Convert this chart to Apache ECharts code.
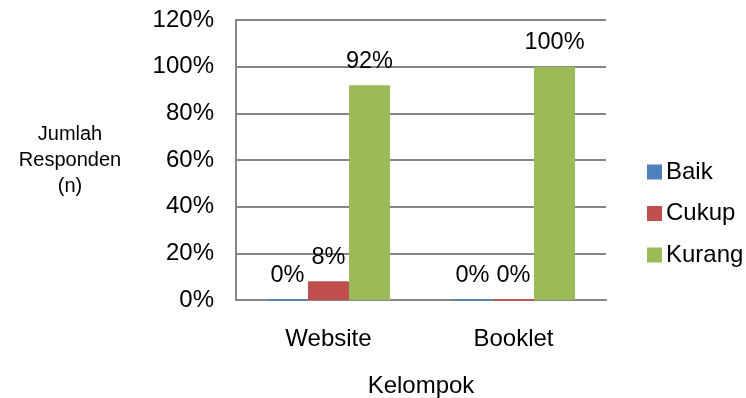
<!DOCTYPE html>
<html><head><meta charset="utf-8">
<script src="https://cdn.jsdelivr.net/npm/echarts@6/dist/echarts.min.js"></script>
<style>html,body{margin:0;padding:0;background:#fff}#c{width:746px;height:398px}</style>
</head><body><div id="c"></div>
<script>
const categories = ['Website', 'Booklet'];
const baik = [0, 0];
const cukup = [0.08, 0];
const kurang = [0.92, 1.0];
const yTicks = [0, 0.2, 0.4, 0.6, 0.8, 1.0, 1.2];

const font = 'Arial, "Liberation Sans", sans-serif';
const pct = v => Math.round(v * 100) + '%';
function series(name, data, color) {
  return {
    name, type: 'bar', data, barWidth: 41, barGap: '0%',
    itemStyle: { color, borderColor: color, borderWidth: 1 },
    label: { show: true, position: 'top', distance: 12, formatter: p => pct(p.value),
      fontFamily: font, fontSize: 23.5, color: '#000' }
  };
}
const chart = echarts.init(document.getElementById('c'), null, { renderer: 'canvas' });
chart.setOption({
  animation: false,
  grid: { left: 236, right: 140, top: 20, bottom: 98, containLabel: false, outerBoundsMode: 'none' },
  legend: {
    orient: 'vertical', left: 642, top: 155, itemWidth: 13, itemHeight: 13, itemGap: 17.5,
    icon: 'rect', textStyle: { fontFamily: font, fontSize: 24, color: '#000' },
    data: ['Baik', 'Cukup', 'Kurang']
  },
  xAxis: {
    type: 'category', data: categories,
    axisTick: { show: false },
    axisLine: { lineStyle: { color: '#868686', width: 2 } },
    axisLabel: { fontFamily: font, fontSize: 24, color: '#000', margin: 27 },
    name: 'Kelompok', nameLocation: 'middle', nameGap: 74,
    nameTextStyle: { fontFamily: font, fontSize: 24, color: '#000' }
  },
  yAxis: {
    type: 'value', min: yTicks[0], max: yTicks[yTicks.length - 1], interval: 0.2,
    axisLine: { show: true, lineStyle: { color: '#868686', width: 2 } },
    axisTick: { show: false },
    splitLine: { lineStyle: { color: '#868686', width: 2 } },
    axisLabel: { formatter: pct, fontFamily: font, fontSize: 24, color: '#000', margin: 22 },
    name: 'Jumlah\nResponden\n(n)', nameLocation: 'middle', nameRotate: 0, nameGap: 166,
    nameTextStyle: { fontFamily: font, fontSize: 20, color: '#000', lineHeight: 26, align: 'center', padding: [6, 0, 0, 0] }
  },
  series: [
    series('Baik', baik, '#4f81bd'),
    series('Cukup', cukup, '#c0504d'),
    series('Kurang', kurang, '#9bbb59')
  ]
});
</script></body></html>
